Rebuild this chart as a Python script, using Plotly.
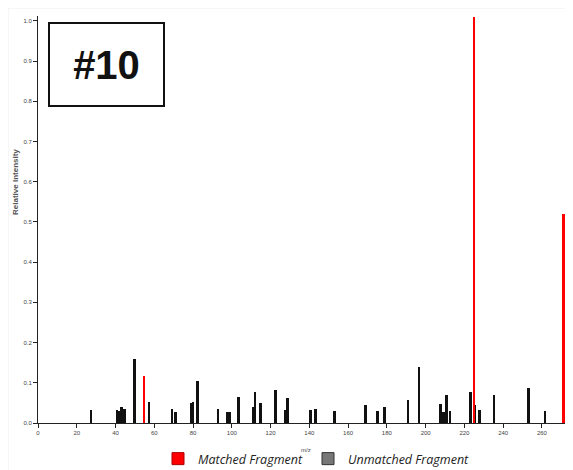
import plotly.graph_objects as go

# Data
matched_mz = [54.9, 225.1, 271.3]
matched_int = [0.118, 1.01, 0.52]

unmatched_mz = [27.5, 41.0, 41.9, 42.4, 43.1, 44.8, 50.0, 57.3, 69.2, 71.1,
                79.3, 80.0, 82.4, 92.9, 98.0, 98.9, 103.6, 103.9, 111.3, 112.1,
                114.9, 122.6, 127.6, 128.8, 140.8, 143.4, 153.0, 169.0, 175.3, 178.9,
                190.9, 196.8, 207.9, 209.3, 210.8, 212.8, 222.9, 223.2, 225.7, 227.9,
                235.3, 253.3, 261.7]
unmatched_int = [0.032, 0.033, 0.029, 0.029, 0.041, 0.035, 0.160, 0.052, 0.035, 0.028,
                 0.050, 0.051, 0.105, 0.035, 0.028, 0.028, 0.065, 0.035, 0.040, 0.076,
                 0.049, 0.083, 0.033, 0.063, 0.033, 0.035, 0.030, 0.044, 0.030, 0.039,
                 0.057, 0.139, 0.048, 0.027, 0.070, 0.030, 0.067, 0.077, 0.045, 0.032,
                 0.070, 0.088, 0.030]

y_ticks = [0.0, 0.1, 0.2, 0.3, 0.4, 0.5, 0.6, 0.7, 0.8, 0.9, 1.0]
x_ticks = list(range(0, 261, 20))

OFF = 8  # page body margin
W, H = 565, 462
L, R, T, B = 30, 2, 8, 47
pw, ph = W - L - R, H - T - B


def px(xs):
    """screen x pixel -> paper x"""
    return (xs - OFF - L) / pw


def py(ys):
    """screen y pixel -> paper y"""
    return (H - B - (ys - OFF)) / ph


fig = go.Figure()

fig.add_trace(go.Bar(x=unmatched_mz, y=unmatched_int, width=1.0,
                     marker=dict(color="#111111", line=dict(width=0)),
                     showlegend=False, hoverinfo="x+y"))
fig.add_trace(go.Bar(x=matched_mz, y=matched_int, width=1.0,
                     marker=dict(color="#ff0000", line=dict(width=0)),
                     showlegend=False, hoverinfo="x+y"))
# legend entries
fig.add_trace(go.Bar(x=[None], y=[None], name="<i>Matched Fragment</i>",
                     marker=dict(color="#ff0000", line=dict(color="#aa0000", width=1))))
fig.add_trace(go.Bar(x=[None], y=[None], name="<i>Unmatched Fragment</i>",
                     marker=dict(color="#777777", line=dict(color="#333333", width=1))))

fig.update_layout(
    width=W, height=H,
    margin=dict(l=L, r=R, t=T, b=B, autoexpand=False),
    paper_bgcolor="white", plot_bgcolor="white",
    barmode="overlay", bargap=0,
    font=dict(family="Liberation Sans, Arial, sans-serif", color="#333"),
    xaxis=dict(range=[0, 275], tickmode="array", tickvals=x_ticks,
               ticks="outside", ticklen=4, tickcolor="#222", tickwidth=1,
               showline=True, linecolor="#222", linewidth=1,
               showgrid=False, zeroline=False,
               tickfont=dict(size=6, color="#444")),
    yaxis=dict(range=[0, 1.012], tickmode="array", tickvals=y_ticks,
               tickformat=".1f",
               ticks="outside", ticklen=4, tickcolor="#222", tickwidth=1,
               showline=True, linecolor="#222", linewidth=1,
               showgrid=False, zeroline=False,
               tickfont=dict(size=6, color="#444")),
    legend=dict(orientation="h", x=px(158), xanchor="left",
                y=py(459), yanchor="middle",
                font=dict(family="Open Sans, sans-serif", size=12.5, color="#222"),
                bgcolor="rgba(0,0,0,0)", itemclick=False, itemdoubleclick=False),
    shapes=[dict(type="rect", xref="paper", yref="paper",
                 x0=px(8), x1=px(620), y0=py(520), y1=py(8),
                 line=dict(color="#eeeeee", width=1), layer="below")],
    annotations=[
        dict(text="<b>#10</b>", xref="paper", yref="paper",
             x=px(48), y=py(22), xanchor="left", yanchor="top",
             width=113, height=81, borderwidth=2, borderpad=0,
             bordercolor="#111", bgcolor="white", showarrow=False,
             font=dict(family="Liberation Sans, Arial, sans-serif", size=40, color="#111")),
        dict(text="<b>Relative Intensity</b>", xref="paper", yref="paper",
             x=px(15), y=py(182), textangle=-90, showarrow=False,
             xanchor="center", yanchor="middle",
             font=dict(size=8, color="#555")),
        dict(text="m/z", xref="paper", yref="paper",
             x=px(306), y=py(450), showarrow=False,
             xanchor="center", yanchor="middle",
             font=dict(size=6, color="#444")),
    ],
)

fig.write_html("out.html")
